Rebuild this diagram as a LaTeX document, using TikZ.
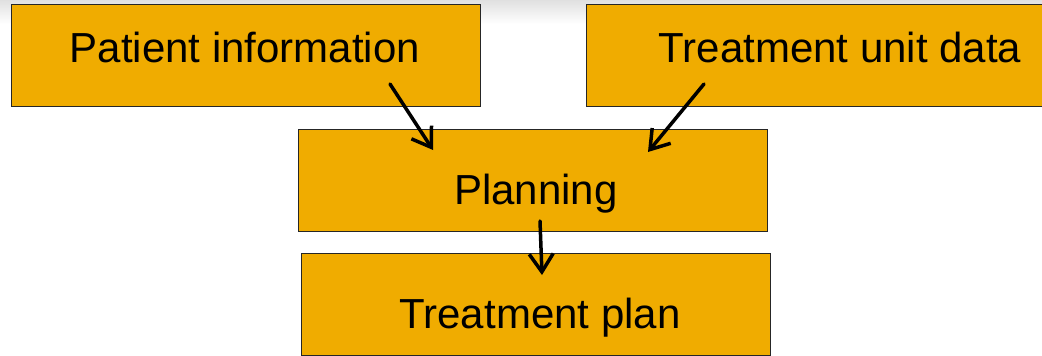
\documentclass[tikz,border=0pt]{standalone}
\usepackage{fontspec}
\setmainfont{Liberation Sans}
\usetikzlibrary{arrows.meta}
\definecolor{boxfill}{RGB}{240,172,0}
\tikzset{
  box/.style={draw=black!85, line width=1.3pt, fill=boxfill, rectangle, inner sep=0pt},
  lbl/.style={font=\fontsize{42}{42}\selectfont, anchor=base, inner sep=0pt},
  arr/.style={line width=3.5pt, -{Straight Barb[length=18pt,width=24pt]}, line cap=round}
}
\begin{document}
\begin{tikzpicture}[x=1pt,y=-1pt]
\useasboundingbox (0,0) rectangle (1042,356);
\clip (0,0) rectangle (1042,356);
\shade[top color=black!12, bottom color=white] (0,0) rectangle (1042,24);
% boxes
\node[box, anchor=north west, minimum width=469pt, minimum height=102pt] (pi) at (11,4) {};
\node[box, anchor=north west, minimum width=480pt, minimum height=102pt] (tu) at (586,4) {};
\node[box, anchor=north west, minimum width=469pt, minimum height=102pt] (pl) at (298,129) {};
\node[box, anchor=north west, minimum width=469pt, minimum height=102pt] (tp) at (301,253) {};
% labels
\node[lbl] (piT) at (245,62) {Patient information};
\node[lbl] (tuT) at (840,62) {Treatment unit data};
\node[lbl] (plT) at (536,204) {Planning};
\node[lbl] (tpT) at (540,328) {Treatment plan};
% arrow ends
\coordinate (a1s) at (390,84);
\coordinate (a1e) at (433,150);
\coordinate (a2s) at (704,84);
\coordinate (a2e) at (648,152);
\coordinate (a3s) at (540,221);
\coordinate (a3e) at (542,275);
\draw[arr] (a1s) -- (a1e);
\draw[arr] (a2s) -- (a2e);
\draw[arr] (a3s) -- (a3e);
\end{tikzpicture}
\end{document}
